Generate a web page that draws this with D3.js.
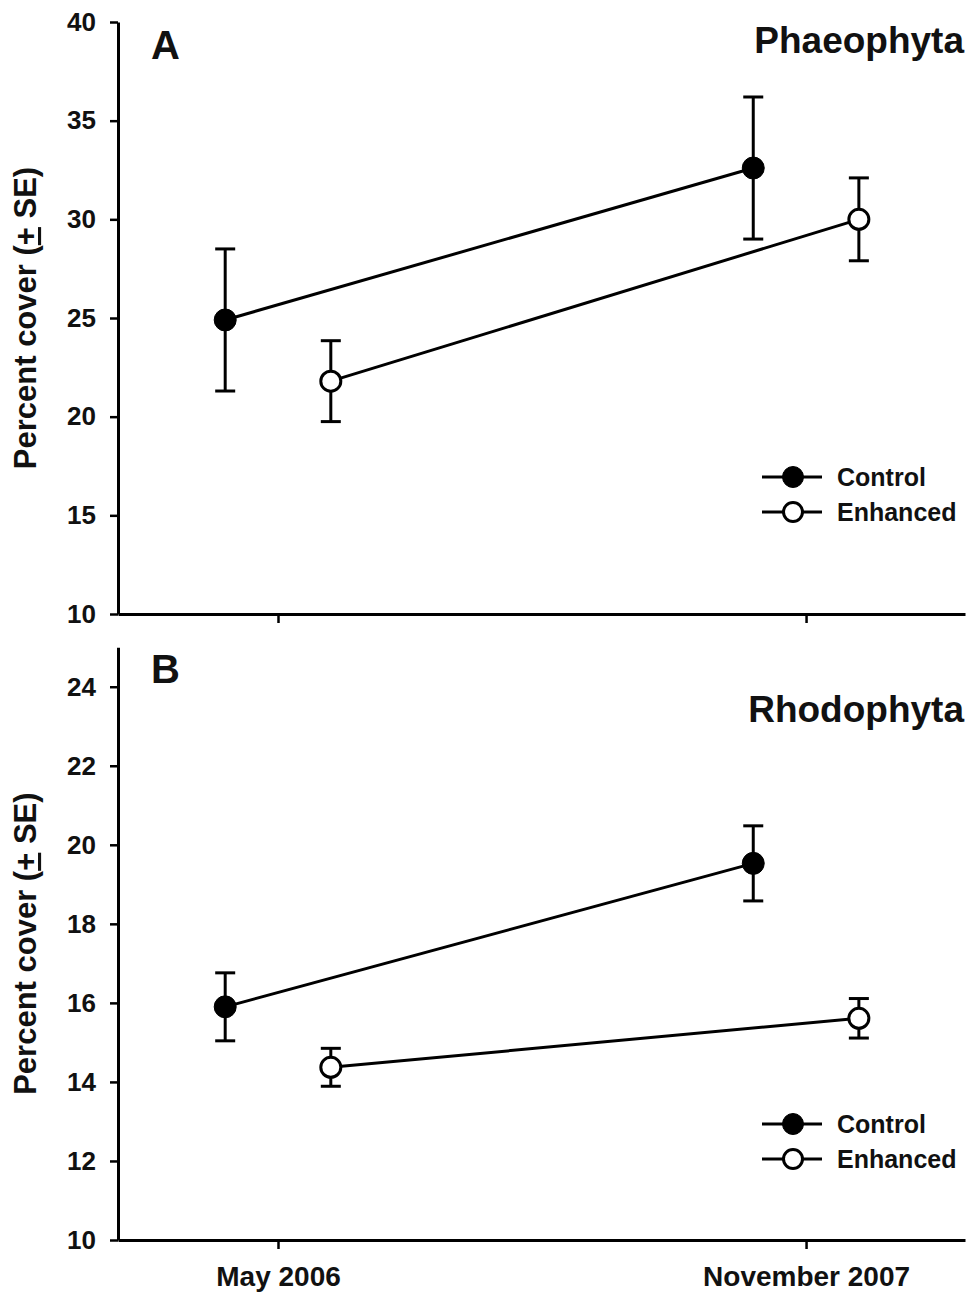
<!DOCTYPE html>
<html lang="en">
<head>
<meta charset="UTF-8">
<title>Percent cover, Phaeophyta and Rhodophyta</title>
<script src="https://cdn.jsdelivr.net/npm/d3@7"></script>
<style>
  body { margin: 0; background: #fff; }
  svg { font-family: "Liberation Sans", Arial, sans-serif; font-weight: bold; }
</style>
</head>
<body>
<div id="chart"></div>
<script>
// data
var dates = ["May 2006", "November 2007"];
var series = ["Control", "Enhanced"];

var phaeoControl = [24.9, 32.6];
var phaeoControlSE = [3.6, 3.6];
var phaeoEnhanced = [21.8, 30.0];
var phaeoEnhancedSE = [2.05, 2.1];

var rhodoControl = [15.9, 19.53];
var rhodoControlSE = [0.86, 0.95];
var rhodoEnhanced = [14.37, 15.61];
var rhodoEnhancedSE = [0.48, 0.5];

var phaeoTicks = [10, 15, 20, 25, 30, 35, 40];
var rhodoTicks = [10, 12, 14, 16, 18, 20, 22, 24];

// layout
var w = 970, h = 1298;
var left = 118, right = 965;

var svg = d3.select("#chart").append("svg")
  .attr("width", w)
  .attr("height", h);

// x positions: dates at 0 and 1, series shifted either side
var x = d3.scaleLinear().domain([-0.303, 1.301]).range([left, right]);
var offset = { "Control": -0.1, "Enhanced": 0.1 };

var panels = [
  { letter: "A", name: "Phaeophyta", top: 22, bottom: 614, domain: [10, 40], ticks: phaeoTicks,
    values: { "Control": phaeoControl, "Enhanced": phaeoEnhanced },
    se: { "Control": phaeoControlSE, "Enhanced": phaeoEnhancedSE },
    letterY: 59, nameY: 53, legendY: 477, xLabels: false },
  { letter: "B", name: "Rhodophyta", top: 647.2, bottom: 1240, domain: [10, 25], ticks: rhodoTicks,
    values: { "Control": rhodoControl, "Enhanced": rhodoEnhanced },
    se: { "Control": rhodoControlSE, "Enhanced": rhodoEnhancedSE },
    letterY: 683, nameY: 722, legendY: 1124, xLabels: true }
];

panels.forEach(function(p) {
  var y = d3.scaleLinear().domain(p.domain).range([p.bottom, p.top]);
  var g = svg.append("g");

  // y axis
  var yAxis = g.append("g")
    .attr("transform", "translate(" + left + ",0)")
    .call(d3.axisLeft(y).tickValues(p.ticks).tickSize(8).tickPadding(14).tickSizeOuter(0));
  yAxis.select(".domain").attr("stroke-width", 3);
  yAxis.selectAll(".tick line").attr("stroke-width", 2.5);
  yAxis.selectAll(".tick text")
    .attr("font-size", 26)
    .attr("font-family", "Liberation Sans, Arial, sans-serif")
    .attr("font-weight", "bold")
    .attr("fill", "#111");

  // x axis
  var xAxis = g.append("g")
    .attr("transform", "translate(0," + p.bottom + ")")
    .call(d3.axisBottom(x).tickValues([0, 1]).tickSize(9).tickSizeOuter(0)
      .tickPadding(17).tickFormat(function(d) { return dates[d]; }));
  xAxis.select(".domain").attr("stroke-width", 3);
  xAxis.selectAll(".tick line").attr("stroke-width", 2.5);
  xAxis.selectAll(".tick text")
    .attr("font-size", 28)
    .attr("font-family", "Liberation Sans, Arial, sans-serif")
    .attr("font-weight", "bold")
    .attr("fill", "#111")
    .attr("opacity", p.xLabels ? 1 : 0);

  // y axis title
  var title = g.append("text")
    .attr("transform", "translate(36," + ((p.top + p.bottom) / 2) + ") rotate(-90)")
    .attr("text-anchor", "middle")
    .attr("font-size", 31)
    .attr("fill", "#111");
  title.append("tspan").text("Percent cover (");
  title.append("tspan").attr("text-decoration", "underline").text("+");
  title.append("tspan").text(" SE)");

  // panel letter and name
  g.append("text")
    .attr("x", 151).attr("y", p.letterY)
    .attr("font-size", 40).attr("fill", "#111")
    .text(p.letter);
  g.append("text")
    .attr("x", 964).attr("y", p.nameY)
    .attr("text-anchor", "end")
    .attr("font-size", 37).attr("fill", "#111")
    .text(p.name);

  // lines, error bars, markers for each series
  series.forEach(function(s) {
    var pts = p.values[s].map(function(v, i) {
      return { x: i + offset[s], v: v, se: p.se[s][i] };
    });

    g.append("path")
      .datum(pts)
      .attr("fill", "none")
      .attr("stroke", "#000")
      .attr("stroke-width", 3)
      .attr("d", d3.line().x(function(d) { return x(d.x); }).y(function(d) { return y(d.v); }));

    var eb = g.selectAll(null).data(pts).enter().append("g");
    eb.append("line")
      .attr("x1", function(d) { return x(d.x); })
      .attr("x2", function(d) { return x(d.x); })
      .attr("y1", function(d) { return y(d.v - d.se); })
      .attr("y2", function(d) { return y(d.v + d.se); })
      .attr("stroke", "#000").attr("stroke-width", 3);
    [-1, 1].forEach(function(sign) {
      eb.append("line")
        .attr("x1", function(d) { return x(d.x) - 10; })
        .attr("x2", function(d) { return x(d.x) + 10; })
        .attr("y1", function(d) { return y(d.v + sign * d.se); })
        .attr("y2", function(d) { return y(d.v + sign * d.se); })
        .attr("stroke", "#000").attr("stroke-width", 3);
    });

    g.selectAll(null).data(pts).enter().append("circle")
      .attr("cx", function(d) { return x(d.x); })
      .attr("cy", function(d) { return y(d.v); })
      .attr("r", s === "Control" ? 11 : 10)
      .attr("fill", s === "Control" ? "#000" : "#fff")
      .attr("stroke", "#000")
      .attr("stroke-width", s === "Control" ? 1 : 3);
  });

  // legend
  series.forEach(function(s, i) {
    var ly = p.legendY + i * 35;
    g.append("line")
      .attr("x1", 762).attr("x2", 822)
      .attr("y1", ly).attr("y2", ly)
      .attr("stroke", "#000").attr("stroke-width", 3);
    g.append("circle")
      .attr("cx", 793).attr("cy", ly)
      .attr("r", s === "Control" ? 10.5 : 9.5)
      .attr("fill", s === "Control" ? "#000" : "#fff")
      .attr("stroke", "#000")
      .attr("stroke-width", s === "Control" ? 1 : 3);
    g.append("text")
      .attr("x", 837).attr("y", ly + 9)
      .attr("font-size", 25).attr("fill", "#111")
      .text(s);
  });
});
</script>
</body>
</html>
